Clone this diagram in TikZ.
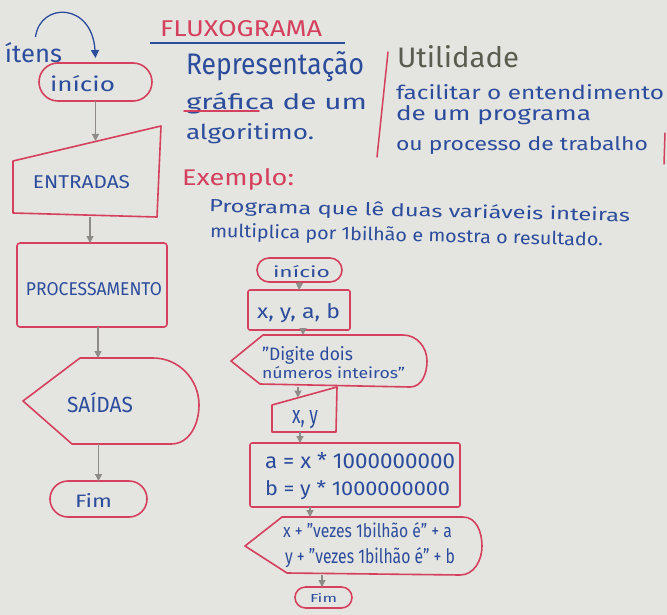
\documentclass[tikz,border=0pt]{standalone}
\usepackage{fontspec}
\setmainfont{Fira Sans}
\usepackage{graphicx}
\usetikzlibrary{shapes.misc,arrows.meta}
\definecolor{board}{HTML}{E4E4E1}
\definecolor{ink}{HTML}{2C4C9C}
\definecolor{redink}{HTML}{D4405E}
\definecolor{grayink}{HTML}{8F8B86}
\definecolor{darkink}{HTML}{5B5C50}
\newcommand{\hwtext}[3]{\resizebox{#1pt}{#2pt}{#3}}
\begin{document}
\begin{tikzpicture}[x=1pt,y=-1pt,
  txt/.style={inner sep=0pt, outer sep=0pt, anchor=base west, text=ink},
  rtxt/.style={txt, text=redink},
  frame/.style={inner sep=0pt, outer sep=0pt, draw=none},
  shp/.style={draw=redink, line width=1.6pt, line join=round},
  term/.style={shp, rounded rectangle, inner sep=0pt, outer sep=0pt},
  boxshape/.style={shp, rectangle, rounded corners=3pt, inner sep=0pt, outer sep=0pt},
  flow/.style={draw=grayink, line width=1.3pt, -{Triangle[width=7pt,length=7pt]}},
  redline/.style={draw=redink, line width=1.5pt, line cap=round}
]
\fill[board] (0,0) rectangle (667,615);
\useasboundingbox (0,0) rectangle (667,615);

% ---------- left flowchart ----------
\node[txt] (itens) at (5,63) {\hwtext{57}{20}{ítens}};
\node[term, minimum width=113pt, minimum height=38pt] (ini) at (95.5,82) {};
\node[txt] (iniT) at (50,92) {\hwtext{65}{16}{início}};
\draw[ink, line width=1.3pt, -{Triangle[width=8pt,length=8pt]}]
  ([xshift=2pt,yshift=6pt]itens.north) .. controls (40,2) and (92,2) .. ([yshift=5pt]ini.north);

\node[frame, minimum width=148pt, minimum height=91pt] (ent) at (87,171.5) {};
\draw[shp] ([yshift=-35pt]ent.north west) -- (ent.north east) -- ([xshift=-4pt]ent.south east)
  -- ([yshift=4pt]ent.south west) -- cycle;
\node[txt] (entT) at (33,188) {\hwtext{97}{13}{ENTRADAS}};
\coordinate (entIn) at (95.5,141);
\draw[flow] (ini.south) -- (entIn);

\node[boxshape, minimum width=150pt, minimum height=84pt] (proc) at (92,285) {};
\node[txt] (procT) at (26,295) {\hwtext{136}{13}{PROCESSAMENTO}};
\draw[flow] ([xshift=3pt]ent.south) -- ([xshift=-2pt]proc.north);

\node[frame, minimum width=176pt, minimum height=86pt] (sai) at (111,401) {};
\draw[shp] (sai.west) -- ([xshift=57pt]sai.north west) -- ([xshift=-46pt]sai.north east)
  to[out=0,in=90] ([yshift=-4pt]sai.east) to[out=-90,in=0] ([xshift=-28pt]sai.south east)
  -- ([xshift=49pt]sai.south west) -- cycle;
\node[txt] (saiT) at (67,412) {\hwtext{66}{20}{SAÍDAS}};
\draw[flow] ([xshift=6pt]proc.south) -- ([xshift=-13pt]sai.north);

\node[term, minimum width=97pt, minimum height=36pt] (fim) at (98.5,499) {};
\node[txt] (fimT) at (75,507) {\hwtext{37}{14}{Fim}};
\draw[flow] ([xshift=-12.5pt]sai.south) -- (fim.north);

% ---------- header texts ----------
\node[rtxt] (fluxo) at (160,37) {\hwtext{162}{16}{FLUXOGRAMA}};
\draw[ink, line width=1.3pt] ([xshift=-10pt,yshift=-6pt]fluxo.base west) -- ([xshift=23pt,yshift=-6pt]fluxo.base east);
\node[txt] (rep1) at (186,75) {\hwtext{178}{23}{Representação}};
\node[txt] (rep2) at (186,110) {\hwtext{181}{17}{gráfica de um}};
\draw[redline] ([xshift=-2pt,yshift=-1pt]rep2.base west) -- ([xshift=73pt,yshift=-1pt]rep2.base west);
\node[txt] (rep3) at (186,140) {\hwtext{128}{16}{algoritimo.}};

\draw[redline] (388,52) -- (377,157);
\draw[redline] (665,133) -- (664,164);
\node[txt, text=darkink] (util) at (397,68) {\hwtext{122}{22}{Utilidade}};
\node[txt] (u1) at (396,100) {\hwtext{268}{15}{facilitar o entendimento}};
\node[txt] (u2) at (396,121) {\hwtext{195}{15}{de um programa}};
\node[txt] (u3) at (396,151) {\hwtext{252}{14}{ou processo de trabalho}};

\node[rtxt] (ex) at (182,185) {\hwtext{112}{17}{Exemplo:}};
\node[txt, rotate=-1.3] (p1) at (209,212) {\hwtext{421}{14}{Programa que lê duas variáveis inteiras}};
\node[txt, rotate=-1.3] (p2) at (210,237) {\hwtext{393}{14}{multiplica por 1bilhão e mostra o resultado.}};

% ---------- right flowchart ----------
\node[term, minimum width=85pt, minimum height=24pt] (ini2) at (299.5,270) {};
\node[txt] (ini2T) at (273,277) {\hwtext{57}{12}{início}};

\node[boxshape, rounded corners=2pt, minimum width=102pt, minimum height=40pt] (vars) at (299,310) {};
\node[txt] (varsT) at (257,318) {\hwtext{83}{15}{x, y, a, b}};
\draw[flow] (ini2.south) -- (vars.north);

\node[frame, minimum width=196pt, minimum height=52pt] (dig) at (329,361) {};
\draw[shp] (dig.west) -- ([xshift=32pt]dig.north west) -- ([xshift=-24pt]dig.north east)
  to[out=0,in=90] (dig.east) to[out=-90,in=0] ([xshift=-17pt]dig.south east)
  -- ([xshift=29pt,yshift=3pt]dig.south west) -- cycle;
\node[txt] (digT1) at (262,360) {\hwtext{91}{14}{"Digite dois}};
\node[txt] (digT2) at (262,378) {\hwtext{143}{12}{números inteiros"}};
\draw[flow] ([xshift=4pt]vars.south) -- ([xshift=-26pt]dig.north);

\node[frame, minimum width=65pt, minimum height=45pt] (xy) at (304.5,409.5) {};
\draw[shp] ([yshift=-18pt]xy.north west) -- (xy.north east) -- ([xshift=-1pt]xy.south east)
  -- (xy.south west) -- cycle;
\node[txt] (xyT) at (292,423) {\hwtext{26}{13}{x, y}};
\coordinate (xyIn) at (298,397.5);
\draw[flow] ([xshift=-31pt]dig.south) -- (xyIn);

\node[boxshape, rounded corners=2pt, minimum width=210pt, minimum height=64pt] (calc) at (355,475) {};
\node[txt] (calcT1) at (265,468) {\hwtext{190}{16}{a = x * 1000000000}};
\node[txt] (calcT2) at (265,495) {\hwtext{185}{15}{b = y * 1000000000}};
\draw[flow] ([xshift=-4.5pt]xy.south) -- ([xshift=-55pt]calc.north);

\node[frame, minimum width=237pt, minimum height=58pt] (out) at (363.5,546) {};
\draw[shp] (out.west) -- ([xshift=37pt]out.north west) -- ([xshift=-19pt]out.north east)
  to[out=0,in=90] (out.east) to[out=-90,in=0] ([xshift=-22pt]out.south east)
  -- ([xshift=42pt,yshift=2pt]out.south west) -- cycle;
\node[txt] (outT1) at (283,537) {\hwtext{169}{15}{x + "vezes 1bilhão é" + a}};
\node[txt] (outT2) at (285,563) {\hwtext{170}{16}{y + "vezes 1bilhão é" + b}};
\draw[flow] ([xshift=-45pt]calc.south) -- ([xshift=-53.5pt]out.north);

\node[term, minimum width=57pt, minimum height=21pt] (fim2) at (323.5,597.5) {};
\node[txt] (fim2T) at (310,602) {\hwtext{27}{9}{Fim}};
\draw[flow] ([xshift=-41.5pt]out.south) -- ([xshift=-1.5pt]fim2.north);
\end{tikzpicture}
\end{document}
